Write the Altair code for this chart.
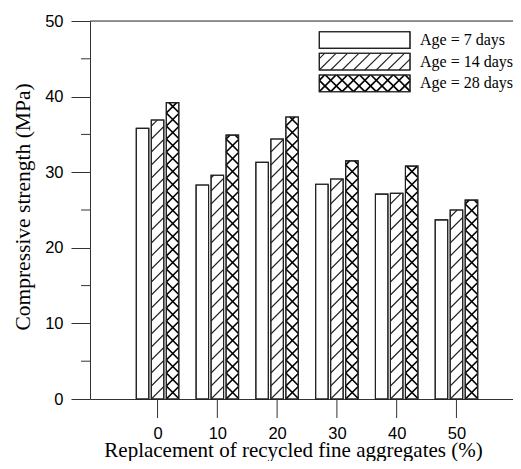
import math
import altair as alt
import pandas as pd

# ---------------- data ----------------
replacement = [0, 10, 20, 30, 40, 50]
ages = ["Age = 7 days", "Age = 14 days", "Age = 28 days"]
age7 = [35.8, 28.3, 31.3, 28.4, 27.1, 23.7]
age14 = [36.9, 29.6, 34.4, 29.1, 27.2, 25.0]
age28 = [39.2, 34.9, 37.3, 31.5, 30.8, 26.3]
y_major = [0, 10, 20, 30, 40, 50]
y_minor = [5, 15, 25, 35, 45]
series = [age7, age14, age28]
patterns = ["none", "slash", "cross"]

# ---------------- layout / style ----------------
W, H = 423, 378
XMIN = -11.3
PX_PER_UNIT = 5.978
XMAX = XMIN + W / PX_PER_UNIT
YMAX = 50
SX = W / (XMAX - XMIN)
SY = H / YMAX
BAR_STEP = 2.51
BAR_W = 2.09
P_BAR = 13.0
P_LEG = 11.4
TICK = 19
SANS = "Liberation Sans"
SERIF = "Liberation Serif"
INK = "#222222"
AXC = "#333333"

xscale = alt.Scale(domain=[XMIN, XMAX], nice=False, zero=False)
yscale = alt.Scale(domain=[0, YMAX], nice=False)

xaxis = alt.Axis(
    values=replacement, ticks=False, labelFont=SANS, labelFontSize=16.5,
    labelColor="black", labelPadding=TICK + 7, grid=False, domainColor=AXC,
    title="Replacement of recycled fine aggregates (%)",
    titleFont=SERIF, titleFontSize=21, titleFontWeight="normal",
    titleColor="black", titleX=203, titleY=57.5, titleAlign="center",
    titleBaseline="alphabetic", labelFlush=False)
yaxis = alt.Axis(
    values=y_major, tickSize=TICK, tickWidth=1, labelFont=SANS, labelFontSize=16.5,
    labelColor="black", labelPadding=8, grid=False, domainColor=AXC,
    tickColor=AXC, title="Compressive strength (MPa)", titleFont=SERIF,
    titleFontSize=21.5, titleFontWeight="normal", titleColor="black",
    titleX=-61, titleY=185.5, titleAngle=270, titleAlign="center",
    titleBaseline="alphabetic", labelFlush=False)


def hatch(w, h, p, kind):
    """segments (x0, y0, x1, y1) inside [0,w]x[0,h], y up, in pixels"""
    segs = []
    if kind in ("slash", "cross"):
        for k in range(int(math.floor(-w / p)) - 1, int(math.ceil(h / p)) + 2):
            c = k * p
            lo, hi = max(0.0, -c), min(w, h - c)
            if hi - lo > 0.3:
                segs.append((lo, lo + c, hi, hi + c))
    if kind == "cross":
        for k in range(0, int(math.ceil((h + w) / p)) + 2):
            c = k * p
            lo, hi = max(0.0, c - h), min(w, c)
            if hi - lo > 0.3:
                segs.append((lo, c - lo, hi, c - hi))
    return segs


bar_rows, hatch_rows = [], []
for i, (age, vals, pat) in enumerate(zip(ages, series, patterns)):
    for r, v in zip(replacement, vals):
        x0 = r + (i - 1) * BAR_STEP - BAR_W / 2
        bar_rows.append({"age": age, "r": r, "x": x0, "x2": x0 + BAR_W, "v": v, "z": 0})
        for (a, b, c, d) in hatch(BAR_W * SX, v * SY, P_BAR, pat):
            hatch_rows.append({
                "kind": pat,
                "x": x0 + a / SX, "y": b / SY,
                "x2": x0 + c / SX, "y2": d / SY,
            })
bars = pd.DataFrame(bar_rows)
hatches = pd.DataFrame(hatch_rows)

# legend (pixel space)
LEG_X0, LEG_X1 = 229.3, 320.0
LEG_TOPS = [10.7, 32.3, 54.0]
LEG_H = 16.7
LEG_TEXT_X = 330
LEG_BASE = [24.0, 45.7, 67.3]
leg_rects = pd.DataFrame({
    "age": ages,
    "x": [LEG_X0] * 3, "x2": [LEG_X1] * 3,
    "y": LEG_TOPS, "y2": [t + LEG_H for t in LEG_TOPS],
    "tx": [LEG_TEXT_X] * 3, "ty": LEG_BASE,
})
leg_h = []
for age, top, pat in zip(ages, LEG_TOPS, patterns):
    for (a, b, c, d) in hatch(LEG_X1 - LEG_X0, LEG_H, P_LEG, pat):
        leg_h.append({"kind": pat, "x": LEG_X0 + a, "y": top + LEG_H - b,
                      "x2": LEG_X0 + c, "y2": top + LEG_H - d})
leg_hatch = pd.DataFrame(leg_h)

tick_df = pd.DataFrame({"r": replacement, "t0": [H] * 6, "t1": [H + TICK] * 6})


def X(f):
    return alt.X(f, scale=xscale, axis=xaxis)


def Y(f):
    return alt.Y(f, scale=yscale, axis=yaxis)


# ---------------- chart ----------------
bar_layer = alt.Chart(bars).mark_rect(fill="white", stroke=INK, strokeWidth=1.1).encode(
    x=X("x:Q"), x2="x2:Q", y=Y("v:Q"), y2="z:Q")

slash_layer = alt.Chart(hatches[hatches.kind == "slash"]).mark_rule(
    stroke=INK, strokeWidth=1.1).encode(
    x=X("x:Q"), x2="x2:Q", y=Y("y:Q"), y2="y2:Q")

cross_layer = alt.Chart(hatches[hatches.kind == "cross"]).mark_rule(
    stroke="black", strokeWidth=1.7).encode(
    x=X("x:Q"), x2="x2:Q", y=Y("y:Q"), y2="y2:Q")

bar_outline = alt.Chart(bars).mark_rect(fill=None, stroke=INK, strokeWidth=1.1).encode(
    x=X("x:Q"), x2="x2:Q", y=Y("v:Q"), y2="z:Q")

minor_ticks = alt.Chart(pd.DataFrame({"v": y_minor})).mark_rule(
    stroke=AXC, strokeWidth=1).encode(
    y=Y("v:Q"), x=alt.value(-9), x2=alt.value(0))

x_ticks = alt.Chart(tick_df).mark_rule(
    stroke=AXC, strokeWidth=1).encode(
    x=X("r:Q"),
    y=alt.Y("t0:Q", scale=None), y2="t1:Q")

top_line = alt.Chart(pd.DataFrame({"v": [YMAX]})).mark_rule(
    stroke=AXC, strokeWidth=1).encode(
    y=Y("v:Q"), x=alt.value(0), x2=alt.value(W))

leg_box = alt.Chart(leg_rects).mark_rect(fill="white", stroke=INK, strokeWidth=1.1).encode(
    x=alt.X("x:Q", scale=None), x2="x2:Q",
    y=alt.Y("y:Q", scale=None), y2="y2:Q")

leg_slash = alt.Chart(leg_hatch[leg_hatch.kind == "slash"]).mark_rule(
    stroke=INK, strokeWidth=1.1).encode(
    x=alt.X("x:Q", scale=None), x2="x2:Q",
    y=alt.Y("y:Q", scale=None), y2="y2:Q")

leg_cross = alt.Chart(leg_hatch[leg_hatch.kind == "cross"]).mark_rule(
    stroke="black", strokeWidth=1.7).encode(
    x=alt.X("x:Q", scale=None), x2="x2:Q",
    y=alt.Y("y:Q", scale=None), y2="y2:Q")

leg_outline = alt.Chart(leg_rects).mark_rect(fill=None, stroke=INK, strokeWidth=1.1).encode(
    x=alt.X("x:Q", scale=None), x2="x2:Q",
    y=alt.Y("y:Q", scale=None), y2="y2:Q")

leg_text = alt.Chart(leg_rects).mark_text(
    align="left", baseline="alphabetic", font=SERIF, fontSize=16, color="black").encode(
    x=alt.X("tx:Q", scale=None), y=alt.Y("ty:Q", scale=None), text="age:N")

chart = alt.layer(
    bar_layer, slash_layer, cross_layer, bar_outline, minor_ticks, x_ticks, top_line,
    leg_box, leg_slash, leg_cross, leg_outline, leg_text,
).properties(
    width=W, height=H,
    autosize=alt.AutoSizeParams(type="none"),
    padding={"left": 82, "top": 13, "right": 0, "bottom": 62},
).configure_view(stroke=None).configure(background="white")

chart.save("out.html", embed_options={"renderer": "svg", "actions": False})
